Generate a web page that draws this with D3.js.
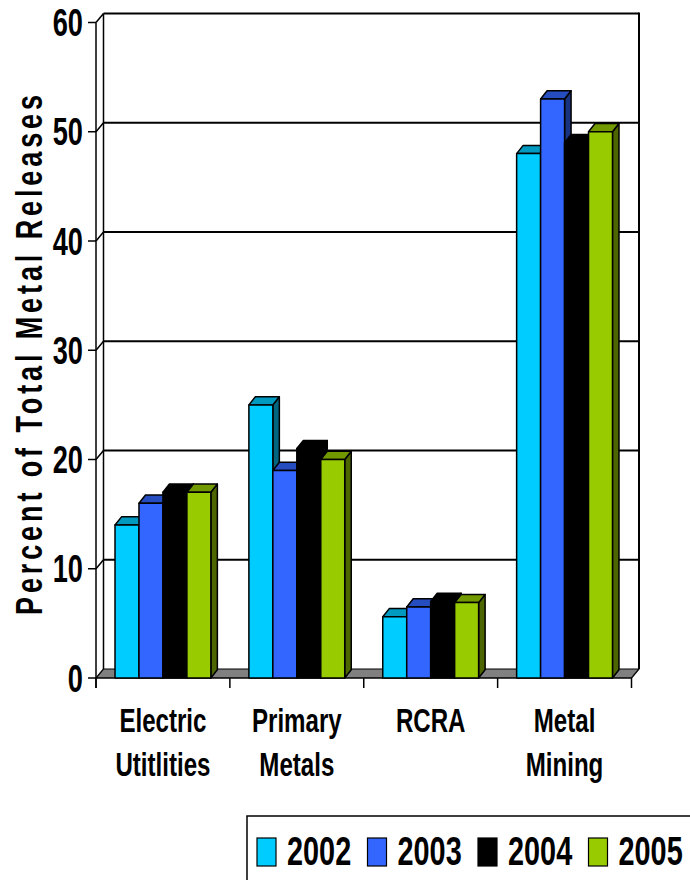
<!DOCTYPE html>
<html>
<head>
<meta charset="utf-8">
<script src="https://cdn.jsdelivr.net/npm/d3@7"></script>
<style>
  html, body { margin: 0; padding: 0; background: #fff; }
  svg { display: block; }
  text { font-family: "Liberation Sans", Arial, sans-serif; font-weight: bold; fill: #000; }
</style>
</head>
<body>
<svg id="chart" width="690" height="880"></svg>
<script>
// Share of total metal releases by industry sector, 2002–2005
const categories = ["Electric Utitlities", "Primary Metals", "RCRA", "Metal Mining"];
const categoryLines = [["Electric", "Utitlities"], ["Primary", "Metals"], ["RCRA"], ["Metal", "Mining"]];
const years = ["2002", "2003", "2004", "2005"];
const values2002 = [14, 25, 5.6, 48];
const values2003 = [16, 19, 6.5, 53];
const values2004 = [17, 21, 7, 49];
const values2005 = [17, 20, 6.9, 50];
const yTicks = [0, 10, 20, 30, 40, 50, 60];
const yTitle = "Percent of Total Metal Releases";

const seriesValues = [values2002, values2003, values2004, values2005];
const frontColors = ["#00CCFF", "#3366FF", "#000000", "#99CC00"];

const svg = d3.select("#chart");

// plot frame (front plane) and 3-D depth offsets
const plotLeft = 96, plotRight = 631.5, plotBottom = 678, plotTop = 22.5;
const wallDx = 7.5, wallDy = 9;   // floor / wall depth
const barDx = 6.5, barDy = 8.2;   // column depth

const y = d3.scaleLinear().domain([0, 60]).range([plotBottom, plotTop]);
const x0 = d3.scaleBand().domain(categories).range([plotLeft, plotRight]).paddingInner(0).paddingOuter(0);
const gap = x0.bandwidth() * 0.142;
const x1 = d3.scaleBand().domain(years).range([gap, x0.bandwidth() - gap]).padding(0);

const shade = (c, k) => {
  const col = d3.rgb(c);
  return d3.rgb(col.r * k, col.g * k, col.b * k).formatHex();
};

const wallRight = plotRight + wallDx;

// back wall gridlines and left-wall diagonals
const grid = svg.append("g");
yTicks.forEach(t => {
  if (t === 0) return;
  const yf = y(t);
  grid.append("line")
    .attr("x1", plotLeft + wallDx).attr("x2", wallRight)
    .attr("y1", yf - wallDy).attr("y2", yf - wallDy)
    .attr("stroke", "#000").attr("stroke-width", 2);
  grid.append("line")
    .attr("x1", plotLeft).attr("x2", plotLeft + wallDx)
    .attr("y1", yf).attr("y2", yf - wallDy)
    .attr("stroke", "#000").attr("stroke-width", 1.5);
});
// wall edges
grid.append("line")
  .attr("x1", plotLeft + wallDx).attr("x2", plotLeft + wallDx)
  .attr("y1", y(60) - wallDy).attr("y2", plotBottom - wallDy)
  .attr("stroke", "#000").attr("stroke-width", 1.5);
grid.append("line")
  .attr("x1", wallRight).attr("x2", wallRight)
  .attr("y1", y(60) - wallDy - 1).attr("y2", plotBottom - wallDy)
  .attr("stroke", "#000").attr("stroke-width", 2);

// floor
const floorPts = [[plotLeft, plotBottom], [plotRight, plotBottom], [plotRight + wallDx, plotBottom - wallDy], [plotLeft + wallDx, plotBottom - wallDy]];
svg.append("polygon")
  .attr("points", floorPts.map(p => p.join(",")).join(" "))
  .attr("fill", "#808080").attr("stroke", "#000").attr("stroke-width", 1.2)
  .attr("stroke-linejoin", "round");

// front axis line
svg.append("line")
  .attr("x1", plotLeft).attr("x2", plotLeft).attr("y1", y(60)).attr("y2", plotBottom + 10)
  .attr("stroke", "#000").attr("stroke-width", 1.5);

// y ticks
const yAxis = svg.append("g");
yTicks.forEach(t => {
  yAxis.append("line")
    .attr("x1", plotLeft - 8).attr("x2", plotLeft)
    .attr("y1", y(t)).attr("y2", y(t))
    .attr("stroke", "#000").attr("stroke-width", 1.5);
  yAxis.append("text")
    .attr("transform", `translate(${plotLeft - 13},${y(t) + 13.5}) scale(0.8,1.12)`)
    .attr("text-anchor", "end")
    .style("font-size", "34px")
    .text(t);
});

// category ticks
const catTicks = categories.map(c => x0(c)).concat([plotRight]);
catTicks.forEach(xv => {
  svg.append("line")
    .attr("x1", xv).attr("x2", xv).attr("y1", plotBottom).attr("y2", plotBottom + 10)
    .attr("stroke", "#000").attr("stroke-width", 1.5);
});
svg.append("line")
  .attr("x1", plotLeft).attr("x2", plotRight).attr("y1", plotBottom).attr("y2", plotBottom)
  .attr("stroke", "#000").attr("stroke-width", 1.2);

// columns, drawn left to right so each front face hides the previous side face
const bars = svg.append("g").attr("stroke", "#000").attr("stroke-width", 1.5).attr("stroke-linejoin", "round");
categories.forEach((cat, ci) => {
  years.forEach((yr, si) => {
    const v = seriesValues[si][ci];
    const xl = x0(cat) + x1(yr);
    const xr = xl + x1.bandwidth();
    const yt = y(v);
    const col = frontColors[si];
    bars.append("polygon")
      .attr("points", [[xr, plotBottom], [xr + barDx, plotBottom - barDy], [xr + barDx, yt - barDy], [xr, yt]].map(p => p.join(",")).join(" "))
      .attr("fill", shade(col, 0.5));
    bars.append("polygon")
      .attr("points", [[xl, yt], [xl + barDx, yt - barDy], [xr + barDx, yt - barDy], [xr, yt]].map(p => p.join(",")).join(" "))
      .attr("fill", shade(col, 0.75));
    bars.append("rect")
      .attr("x", xl).attr("y", yt)
      .attr("width", x1.bandwidth()).attr("height", plotBottom - yt)
      .attr("fill", col);
  });
});

// category labels
categories.forEach((cat, ci) => {
  const cx = x0(cat) + x0.bandwidth() / 2;
  categoryLines[ci].forEach((line, li) => {
    svg.append("text")
      .attr("transform", `translate(${cx},${732 + li * 44}) scale(0.86,1.2)`)
      .attr("text-anchor", "middle")
      .style("font-size", "28px")
      .text(line);
  });
});

// y axis title
svg.append("text")
  .attr("transform", "translate(42,355) rotate(-90) scale(1,1.35)")
  .attr("text-anchor", "middle")
  .attr("textLength", 520)
  .attr("lengthAdjust", "spacing")
  .style("font-size", "27px")
  .text(yTitle);

// legend
const legend = svg.append("g");
legend.append("rect")
  .attr("x", 247).attr("y", 816).attr("width", 500).attr("height", 100)
  .attr("fill", "#fff").attr("stroke", "#000").attr("stroke-width", 1.5);
const lx = d3.scaleBand().domain(years).range([257, 699]);
years.forEach((yr, si) => {
  const sx = lx(yr);
  legend.append("rect")
    .attr("x", sx).attr("y", 838).attr("width", 19).attr("height", 28)
    .attr("fill", frontColors[si]).attr("stroke", "#000").attr("stroke-width", 1.2);
  legend.append("text")
    .attr("transform", `translate(${sx + 30},865) scale(0.78,1.08)`)
    .style("font-size", "37px")
    .text(yr);
});
</script>
</body>
</html>
